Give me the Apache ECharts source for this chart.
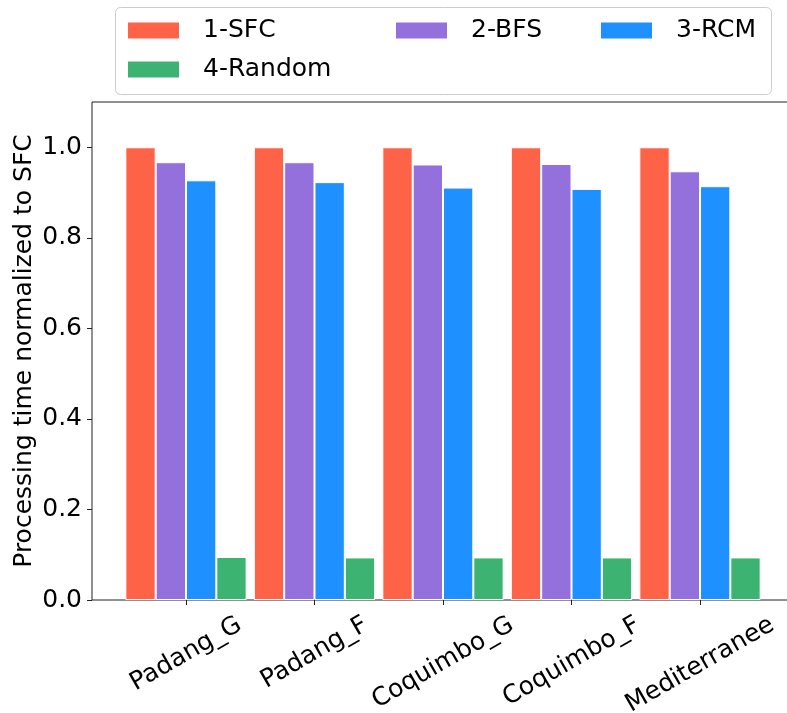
<!DOCTYPE html>
<html><head><meta charset="utf-8">
<script src="https://cdn.jsdelivr.net/npm/echarts@6/dist/echarts.min.js"></script>
<style>html,body{margin:0;padding:0;background:#fff}#c{width:787px;height:713px}</style>
</head><body><div id="c"></div>
<script>
const categories = ['Padang_G', 'Padang_F', 'Coquimbo_G', 'Coquimbo_F', 'Mediterranee'];
const seriesNames = ['1-SFC', '2-BFS', '3-RCM', '4-Random'];
const sfcValues = [1.0, 1.0, 1.0, 1.0, 1.0];
const bfsValues = [0.967, 0.967, 0.962, 0.963, 0.947];
const rcmValues = [0.927, 0.923, 0.911, 0.908, 0.914];
const randomValues = [0.095, 0.094, 0.094, 0.094, 0.094];
const yTicks = [0, 0.2, 0.4, 0.6, 0.8, 1.0];
const yAxisName = 'Processing time normalized to SFC';

const colors = ['#FF6347', '#9370DB', '#1E90FF', '#3CB371'];
const FONT = 'DejaVu Sans';
const FS = 25;
const LH = 28;
const ROT = 30;

// per-label padding so rotated labels are centred on their tick (matplotlib style)
const ctx = document.createElement('canvas').getContext('2d');
ctx.font = FS + 'px "' + FONT + '"';
const rad = ROT * Math.PI / 180;
const catData = categories.map(c => {
  const w = ctx.measureText(c).width;
  const pt = w * Math.cos(rad) / 4;
  const pr = w * Math.sin(rad) / 2 + LH * Math.tan(rad);
  return { value: c, textStyle: {
    align: 'center', verticalAlign: 'top', lineHeight: LH,
    fontFamily: FONT, fontSize: FS, color: '#000',
    padding: [pt, pr, 0, 0] } };
});

const allValues = [sfcValues, bfsValues, rcmValues, randomValues];
const series = seriesNames.map((n, i) => ({
  name: n, type: 'bar', xAxisIndex: 1, yAxisIndex: 1,
  data: allValues[i], barWidth: '23.6%', barGap: '0%',
  itemStyle: { color: colors[i], borderColor: '#ffffff', borderWidth: 1 },
  emphasis: { disabled: true }
}));

const legendPos = [[126, 18], [394, 18], [599, 18], [126, 57]];
const legends = seriesNames.map((n, i) => ({
  data: [n], left: legendPos[i][0], top: legendPos[i][1], padding: 0,
  itemWidth: 53, itemHeight: 18, icon: 'rect', selectedMode: false,
  textStyle: { fontFamily: FONT, fontSize: FS, color: '#000', padding: [0, 0, 0, 18] }
}));

const chart = echarts.init(document.getElementById('c'), null, { renderer: 'canvas' });
chart.setOption({
  animation: false,
  backgroundColor: '#ffffff',
  textStyle: { fontFamily: FONT },
  graphic: [{
    type: 'rect', left: 115, top: 7, z: -1,
    shape: { width: 656, height: 87, r: 5 },
    style: { fill: '#ffffff', stroke: '#cccccc', lineWidth: 1 }
  }],
  legend: legends,
  grid: [
    { left: 92, top: 102, width: 698, bottom: 113, show: true, borderColor: '#222', borderWidth: 1,
      backgroundColor: 'transparent', containLabel: false, outerBoundsMode: 'none' },
    { left: 121.75, top: 102, width: 642.5, bottom: 113, containLabel: false, outerBoundsMode: 'none' }
  ],
  xAxis: [
    { type: 'value', gridIndex: 0, show: false, min: 0, max: 1 },
    {
      type: 'category', gridIndex: 1, data: catData,
      axisLine: { show: false },
      axisTick: { show: true, alignWithLabel: true, length: 5, lineStyle: { color: '#222', width: 1 } },
      axisLabel: {
        interval: 0, rotate: ROT, margin: 7,
        fontFamily: FONT, fontSize: FS, color: '#000'
      }
    }
  ],
  yAxis: [
    {
      type: 'value', gridIndex: 0, min: 0, max: 1.1,
      name: yAxisName, nameLocation: 'middle', nameGap: 55, nameMoveOverlap: false,
      nameTextStyle: { fontFamily: FONT, fontSize: FS, color: '#000' },
      axisLine: { show: false },
      splitLine: { show: false },
      axisTick: { show: true, length: 5, customValues: yTicks, lineStyle: { color: '#222', width: 1 } },
      axisLabel: { customValues: yTicks, formatter: v => v.toFixed(1), margin: 10, fontFamily: FONT, fontSize: FS, color: '#000' }
    },
    { type: 'value', gridIndex: 1, min: 0, max: 1.1, show: false }
  ],
  series: series
});
</script></body></html>
